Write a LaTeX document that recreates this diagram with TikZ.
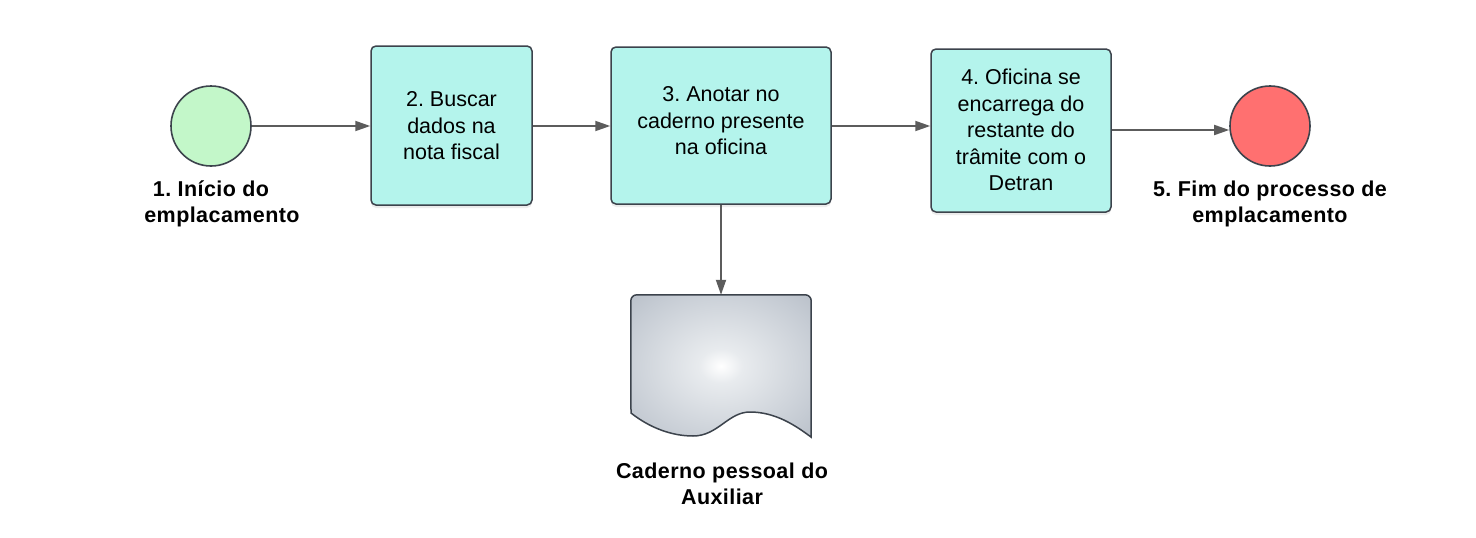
\documentclass[tikz,border=0pt]{standalone}
\usepackage{fontspec}
\setmainfont{Liberation Sans}
\usetikzlibrary{arrows.meta,shadows}
\definecolor{startgreen}{HTML}{C3F7C9}
\definecolor{taskteal}{HTML}{B4F4EC}
\definecolor{endred}{HTML}{FF7070}
\definecolor{edgegray}{HTML}{3C434C}
\definecolor{arrowgray}{HTML}{5C5C5C}
\definecolor{docgray}{HTML}{A3ABB6}
\definecolor{docmid}{HTML}{C6CCD4}
\definecolor{docin}{HTML}{E8EBEE}
\definecolor{docout}{HTML}{9EA7B2}
\pgfdeclareradialshading{docshade}{\pgfpoint{0bp}{0bp}}{color(0bp)=(white); color(6bp)=(docin); color(28bp)=(docmid); color(50bp)=(docgray); color(72bp)=(docout)}
\frenchspacing
\begin{document}
\begin{tikzpicture}[x=1pt,y=-1pt,
  eventnode/.style={circle,draw=edgegray,line width=1.6pt,minimum size=80pt,inner sep=0pt},
  taskbox/.style={rectangle,rounded corners=5pt,draw=edgegray,line width=1.5pt,fill=taskteal,
     inner sep=0pt,drop shadow={opacity=0.15,shadow xshift=0pt,shadow yshift=-3pt}},
  tasktext/.style={align=center,font=\fontsize{21.5}{26.5}\selectfont,inner sep=0pt},
  lbl/.style={align=center,font=\fontsize{21.5}{26.5}\selectfont\bfseries\addfontfeatures{LetterSpace=2},inner sep=0pt},
  flow/.style={draw=arrowgray,line width=1.8pt,-{Triangle[length=15pt,width=10pt]}}
]
\useasboundingbox[fill=white] (0,0) rectangle (1476,538);

\node[eventnode,fill=startgreen] (c1) at (211,126) {};
\node[taskbox,minimum width=161pt,minimum height=159pt] (b2) at (451.5,125.5) {};
\node[tasktext] (t2) at (451.5,126) {2. Buscar\\dados na\\nota fiscal};
\node[taskbox,minimum width=220pt,minimum height=157pt] (b3) at (721,125.5) {};
\node[tasktext] (t3) at (721,121) {3. Anotar no\\caderno presente\\na oficina};
\node[taskbox,minimum width=180pt,minimum height=163pt] (b4) at (1021,130.5) {};
\node[tasktext] (t4) at (1021,130) {4. Oficina se\\encarrega do\\restante do\\trâmite com o\\Detran};
\node[eventnode,fill=endred] (c5) at (1270,126) {};

\node[inner sep=0pt,minimum width=180pt,minimum height=142pt] (doc) at (721,366) {};
\path[draw=edgegray,line width=1.5pt,shading=docshade]
  (631,413)
  [rounded corners=6pt] -- (doc.north west) -- (doc.north east) [sharp corners]
  -- (doc.south east)
  .. controls (795,425) and (775,412) .. (750,412)
  .. controls (728,412) and (718,436) .. (693,436)
  .. controls (672,436) and (650,428) .. (631,413) -- cycle;

\node[lbl] (l1) at (222,204) {1. Início do\hspace*{22pt}\\emplacamento};
\node[lbl] (l5) at (1270,204) {5. Fim do processo de\\emplacamento};
\node[lbl] (l6) at (722,484) {Caderno pessoal do\\Auxiliar};

\draw[flow] (c1) -- (c1 -| b2.west);
\draw[flow] (b2.east |- 0,126) -- (b3.west |- 0,126);
\draw[flow] (b3.east |- 0,126) -- (b4.west |- 0,126);
\draw[flow] (b4.east |- 0,130) -- (c5.west |- 0,130);
\draw[flow] (b3.south) -- (doc.north);
\end{tikzpicture}
\end{document}
